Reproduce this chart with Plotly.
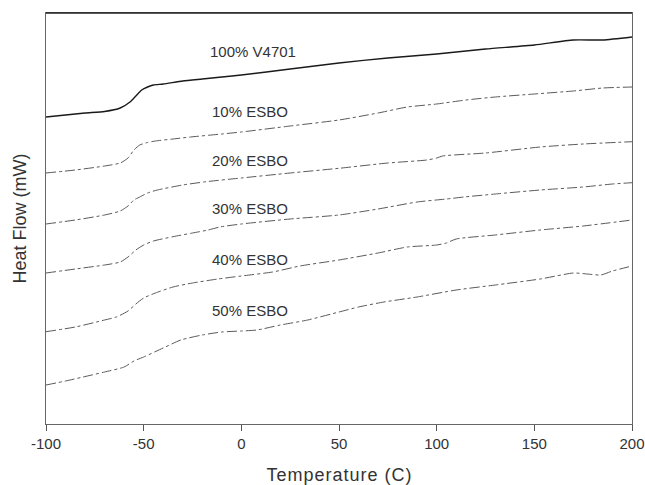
import plotly.graph_objects as go

# Temperature (C) and heat flow (arbitrary units, offset curves)
t_v4701 = [-100,-90,-80,-70,-62,-57,-54,-51,-48,-45,-40,-30,-20,-10,0,25,50,75,100,125,150,170,185,200]
hf_v4701 = [307,309,311,312.5,316,322,328,334,337,339,340,343,345,347,349,355,361,366,370,375,379,384,384,387]

t_10 = [-100,-85,-70,-62,-58,-55,-52,-48,-44,-35,-26,-10,0,25,50,70,85,100,115,130,150,170,185,200]
hf_10 = [251,254,258,261,266,274,279,281.5,283,285,287,290,292,298,304,311,317,320,324,327,330,333,336,337]

t_20 = [-100,-85,-70,-62,-58,-55,-52,-48,-43,-30,-18,0,25,50,75,95,100,103,125,153,175,200]
hf_20 = [200,204,209,213,218,224,227,231,234,239,242.3,246,251,255.7,261,264,266,268,271,277,280,282.3]

t_30 = [-100,-85,-70,-62,-58,-54,-50,-45,-35,-25,-17,-11,0,25,50,70,90,105,114,130,153,175,190,200]
hf_30 = [151,155,159,162,167,174,179,183,187.3,191,194,197,200,205,209,215,222,225,227,230,234,237,240,241.3]

t_40 = [-100,-85,-70,-64,-58,-54,-50,-44,-35,-25,-12,0,16,30,50,70,85,100,105,110,130,153,175,200]
hf_40 = [92.3,97,104,107,113,120,126,131,137,141,145,148,152,158,164,171,177,179,181,185,189,194,198,204]

t_50 = [-100,-90,-81,-70,-60,-55,-50,-40,-31,-20,-10,0,8,20,34,50,60,73,90,110,130,153,170,177,184,190,200]
hf_50 = [39,43,47,52,57,63,67,76,84,89,92,93,94,99,104,112,117,122,127,134,139,145,151,150,149,153,158]

labels = ["100% V4701", "10% ESBO", "20% ESBO", "30% ESBO", "40% ESBO", "50% ESBO"]
label_y = [372.3, 312.3, 264, 215.7, 165, 113.3]
label_x = [5.9, 4.6, 4.6, 4.6, 4.6, 4.6]

x_ticks = [-100, -50, 0, 50, 100, 150, 200]
x_ticktext = ["-100", "-50", "0", "50", "100", "150", "200"]

series = [(t_v4701, hf_v4701), (t_10, hf_10), (t_20, hf_20),
          (t_30, hf_30), (t_40, hf_40), (t_50, hf_50)]

FONT = "Liberation Sans, Arial, sans-serif"
fig = go.Figure()
for i, (t, hf) in enumerate(series):
    if i == 0:
        line = dict(color="#1a1a1a", width=1.4, shape="spline", smoothing=0.6)
    else:
        line = dict(color="#5a5a5a", width=1, dash="10px,3px,3px,3px", shape="spline", smoothing=0.6)
    fig.add_trace(go.Scatter(x=t, y=hf, mode="lines", line=line, name=labels[i],
                             showlegend=False, hoverinfo="skip"))

for lx, ly, txt in zip(label_x, label_y, labels):
    fig.add_annotation(x=lx, y=ly, xref="x", yref="y", text=txt, showarrow=False,
                       font=dict(family=FONT, size=15, color="#333333"),
                       xanchor="center", yanchor="middle")

fig.add_annotation(x=0.5, y=-0.124, xref="paper", yref="paper", text="Temperature (C)",
                   showarrow=False, font=dict(family=FONT, size=18, color="#333333"),
                   xanchor="center", yanchor="middle")
fig.add_annotation(x=-0.0444, y=0.5, xref="paper", yref="paper", text="Heat Flow (mW)",
                   showarrow=False, textangle=-90,
                   font=dict(family=FONT, size=18, color="#333333"),
                   xanchor="center", yanchor="middle")

fig.add_shape(type="line", xref="paper", yref="paper", x0=0, x1=1, y0=1, y1=1,
              line=dict(color="#222222", width=1.6))

fig.update_layout(
    width=645, height=485,
    margin=dict(l=46, r=13, t=13, b=61, autoexpand=False),
    paper_bgcolor="white", plot_bgcolor="white",
    font=dict(family=FONT, color="#333333"),
    xaxis=dict(range=[-100, 200], tickvals=x_ticks, ticktext=x_ticktext,
               ticks="outside", ticklen=6, tickcolor="#555555", tickwidth=1,
               showline=True, linecolor="#666666", linewidth=1, mirror=True,
               showgrid=False, zeroline=False, automargin=False,
               ticklabeloverflow="allow",
               tickfont=dict(size=15, color="#333333")),
    yaxis=dict(range=[0, 411], showticklabels=False, ticks="",
               showline=True, linecolor="#666666", linewidth=1, mirror=True,
               showgrid=False, zeroline=False, automargin=False),
)
fig.write_html(
    "out.html",
    config={"responsive": False, "displayModeBar": False},
    post_script=(
        "document.body.style.margin='0';"
        "document.documentElement.style.overflow='hidden';"
        "document.body.style.overflow='hidden';"
        "document.querySelectorAll('g.annotation[data-index=\"6\"] text').forEach(function(e){e.style.letterSpacing='1px';});"
    ),
)
